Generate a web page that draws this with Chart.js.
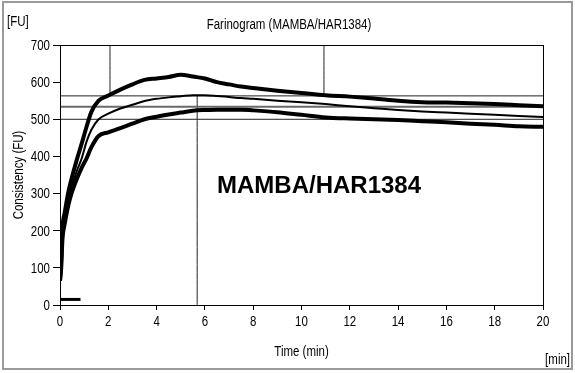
<!DOCTYPE html>
<html>
<head>
<meta charset="utf-8">
<title>Farinogram</title>
<script src="https://cdn.jsdelivr.net/npm/chart.js@4.4.1/dist/chart.umd.min.js"></script>
<style>
  html, body { margin: 0; padding: 0; background: #fff; }
  canvas { display: block; }
</style>
</head>
<body>
<canvas id="farinoChart" width="575" height="373"></canvas>
<script>
// Farinogram data - consistency (FU) over mixing time (min)
const timeMin = [0, 0.05, 0.1, 0.2, 0.35, 0.5, 0.7, 0.9, 1.1, 1.3, 1.6, 2.0, 2.5, 3.0, 3.5, 4.0, 4.5, 5.0, 5.5, 6.0, 6.5, 7.0, 7.5, 8, 9, 10, 11, 12, 13, 14, 15, 16, 17, 18, 19, 20];
const upperFU  = [65, 120, 205, 250, 305, 345, 392, 435, 480, 520, 550, 564, 580, 594, 606, 610, 614, 620, 615, 610, 600, 594, 588, 584, 577, 571, 565, 561, 556, 550, 546, 545, 543, 541, 538, 535];
const meanFU   = [65, 110, 185, 235, 285, 322, 362, 395, 440, 472, 500, 515, 529, 539, 549, 555, 559, 562, 565, 565, 563, 560, 557, 555, 550, 546, 541, 535, 530, 525, 521, 518, 515, 512, 509, 506];
const lowerFU  = [65, 100, 175, 220, 270, 305, 340, 370, 395, 425, 455, 465, 476, 488, 500, 507, 513, 518, 523, 525, 526, 526, 526, 524, 519, 512, 505, 502, 500, 498, 495, 492, 488, 485, 481, 480];

// evaluation lines
const levelFU = [563, 534, 500];
const markerTime = [2.07, 5.68, 10.93];
const markerFrom = [563, 0, 563];
const markerTo = [700, 566, 700];
const startBar = { from: 0, to: 0.85, fu: 15 };

const xTicks = { min: 0, max: 20, step: 2 };
const yTicks = { min: 0, max: 700, step: 100 };

const FONT = '14px "Liberation Sans", Arial, sans-serif';
const NARROW = 0.82; // squeeze to look like Arial Narrow

function toPoints(xs, ys) {
  return xs.map((x, i) => ({ x: x, y: ys[i] }));
}

function segment(x1, y1, x2, y2, color, width) {
  return {
    data: [{ x: x1, y: y1 }, { x: x2, y: y2 }],
    borderColor: color,
    borderWidth: width,
    pointRadius: 0,
    order: 5
  };
}

// condensed text helper
function narrowText(ctx, text, x, y, align, baseline, rotation) {
  ctx.save();
  ctx.translate(x, y);
  if (rotation) ctx.rotate(rotation);
  ctx.scale(NARROW, 1);
  ctx.textAlign = align;
  ctx.textBaseline = baseline;
  ctx.fillText(text, 0, 0);
  ctx.restore();
}

const datasets = [
  { data: toPoints(timeMin, upperFU), borderColor: '#000', borderWidth: 4, pointRadius: 0, order: 1 },
  { data: toPoints(timeMin, meanFU), borderColor: '#000', borderWidth: 2, pointRadius: 0, order: 1 },
  { data: toPoints(timeMin, lowerFU), borderColor: '#000', borderWidth: 4, pointRadius: 0, order: 1 }
];

levelFU.forEach((v, i) => {
  datasets.push(segment(xTicks.min, v, xTicks.max, v, i === 1 ? '#6a6a6a' : '#222', i === 1 ? 2 : 1));
});
markerTime.forEach((t, i) => {
  datasets.push(segment(t, markerFrom[i], t, markerTo[i], '#222', 1));
});
datasets.push(segment(startBar.from, startBar.fu, startBar.to, startBar.fu, '#000', 3));

// plot frame, outer border, tick labels and free text
const decorations = {
  id: 'decorations',
  afterDatasetsDraw(chart) {
    const { ctx, chartArea } = chart;
    const xs = chart.scales.x;
    const ys = chart.scales.y;
    ctx.save();
    ctx.strokeStyle = '#000';
    ctx.lineWidth = 1;
    ctx.strokeRect(chartArea.left + 0.5, chartArea.top + 0.5,
      chartArea.right - chartArea.left, chartArea.bottom - chartArea.top);

    ctx.strokeStyle = '#9a9a9a';
    ctx.lineWidth = 2;
    ctx.strokeRect(3, 2, 569, 367);

    ctx.fillStyle = '#000';
    ctx.font = FONT;

    // tick labels from the scales
    ys.ticks.forEach((t) => {
      narrowText(ctx, String(t.value), chartArea.left - 10, ys.getPixelForValue(t.value) + 1, 'right', 'middle');
    });
    xs.ticks.forEach((t) => {
      narrowText(ctx, String(t.value), xs.getPixelForValue(t.value), chartArea.bottom + 17, 'center', 'middle');
    });

    // axis titles and units
    narrowText(ctx, 'Time (min)', (chartArea.left + chartArea.right) / 2, 352, 'center', 'middle');
    narrowText(ctx, 'Consistency (FU)', 19, (chartArea.top + chartArea.bottom) / 2, 'center', 'middle', -Math.PI / 2);
    narrowText(ctx, 'Farinogram (MAMBA/HAR1384)', 289, 29, 'center', 'alphabetic');
    narrowText(ctx, '[FU]', 7, 26, 'left', 'alphabetic');
    narrowText(ctx, '[min]', 570, 364, 'right', 'alphabetic');

    ctx.font = 'bold 24px "Liberation Sans", Arial, sans-serif';
    ctx.textAlign = 'left';
    ctx.textBaseline = 'alphabetic';
    ctx.fillText('MAMBA/HAR1384', 217, 193);
    ctx.restore();
  }
};

new Chart(document.getElementById('farinoChart').getContext('2d'), {
  type: 'line',
  data: { datasets: datasets },
  plugins: [decorations],
  options: {
    responsive: false,
    animation: false,
    layout: { padding: { left: 0, right: 32, top: 45, bottom: 0 } },
    plugins: {
      legend: { display: false },
      tooltip: { enabled: false },
      title: { display: false }
    },
    elements: { line: { cubicInterpolationMode: 'monotone', borderCapStyle: 'butt' } },
    scales: {
      x: {
        type: 'linear',
        min: xTicks.min,
        max: xTicks.max,
        afterFit: (scale) => { scale.height = 68; },
        ticks: { stepSize: xTicks.step, display: false },
        grid: { drawOnChartArea: false, tickLength: 5, color: '#000' },
        border: { color: '#000' }
      },
      y: {
        min: yTicks.min,
        max: yTicks.max,
        afterFit: (scale) => { scale.width = 60; },
        ticks: { stepSize: yTicks.step, display: false },
        grid: { drawOnChartArea: false, tickLength: 7, color: '#000' },
        border: { color: '#000' }
      }
    }
  }
});
</script>
</body>
</html>
